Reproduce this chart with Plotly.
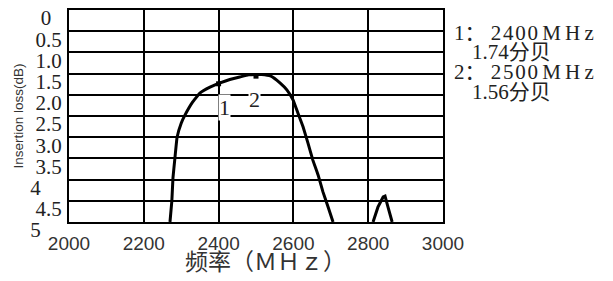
import plotly.graph_objects as go

# Main passband curve (MHz, insertion loss dB)
freq_main = [2270, 2275, 2278, 2283, 2289, 2300, 2310, 2329, 2350, 2377, 2404, 2430, 2457,
             2480, 2500, 2515, 2540, 2564, 2583, 2599, 2612, 2626, 2639, 2652, 2666,
             2679, 2693, 2706]
loss_main = [5.0, 4.5, 3.96, 3.51, 3.0, 2.67, 2.48, 2.19, 1.96, 1.82, 1.72, 1.64, 1.58,
             1.53, 1.52, 1.52, 1.56, 1.72, 1.89, 2.12, 2.43, 2.76, 3.14, 3.54, 3.89,
             4.29, 4.65, 5.0]
# Spurious bump
freq_spur = [2813, 2826, 2840, 2845, 2853, 2864]
loss_spur = [5.0, 4.65, 4.41, 4.39, 4.65, 5.0]

marker_freq = [2400, 2500]
marker_loss = [1.74, 1.56]
marker_names = ["1", "2"]

y_ticks = [0, 0.5, 1.0, 1.5, 2.0, 2.5, 3.0, 3.5, 4.0, 4.5, 5.0]
y_text = ["0\u2002", "0.5", "1.0", "1.5", "2.0", "2.5", "3.0", "3.5", "4\u2007\u2007", "4.5", "5\u2007\u2007"]
x_ticks = [2000, 2200, 2400, 2600, 2800, 3000]
x_title = "频率（ＭＨｚ）"
y_title = "Insertion loss(dB)"

info_lines = ["1： 2\u200a4\u200a0\u200a0\u2009M\u2009H\u2009z", "1.74分贝",
              "2： 2\u200a5\u200a0\u200a0\u2009M\u2009H\u2009z", "1.56分贝"]

SERIF = "Liberation Serif, Noto Sans CJK SC, serif"

# page body has an 8px margin: figure coordinates = page pixels - 8
OFF = 8
PL, PR, PT, PB = 69, 443, 10, 222   # plot box in page pixels

fig = go.Figure()
fig.add_trace(go.Scatter(x=freq_main, y=loss_main, mode="lines",
                         line=dict(color="black", width=3, shape="spline", smoothing=0.3),
                         showlegend=False))
fig.add_trace(go.Scatter(x=freq_spur, y=loss_spur, mode="lines",
                         line=dict(color="black", width=3),
                         showlegend=False))
fig.add_trace(go.Scatter(x=marker_freq, y=marker_loss, mode="markers",
                         marker=dict(color="black", size=5, symbol="square"),
                         showlegend=False))

# marker labels "1" and "2"
label_pos = [(2417, 2.29), (2497, 2.12)]
for name, (lx, ly) in zip(marker_names, label_pos):
    fig.add_annotation(x=lx, y=ly, text=name, showarrow=False,
                       font=dict(family=SERIF, size=22, color="#222"),
                       bgcolor="white", borderpad=0)

# right-side info text (page pixel positions converted to paper coords)
info_py = [33, 52, 72, 92]
info_px = [452, 470, 452, 470]
for t, py, px in zip(info_lines, info_py, info_px):
    fig.add_annotation(xref="paper", yref="paper",
                       x=(px - PL) / (PR - PL), y=(PB - py) / (PB - PT), text=t, showarrow=False,
                       xanchor="left", yanchor="middle",
                       font=dict(family=SERIF, size=21, color="#222"))

# x-axis title placed as text just below the tick labels
fig.add_annotation(xref="paper", yref="paper",
                   x=(265 - PL) / (PR - PL), y=(PB - 260) / (PB - PT), text=x_title,
                   showarrow=False, xanchor="center", yanchor="middle",
                   font=dict(family="Noto Sans CJK SC", size=23, color="#333"))

W, H = 613 - OFF, 281 - OFF
fig.update_layout(
    width=W, height=H,
    margin=dict(l=PL - OFF, r=W - (PR - OFF), t=PT - OFF, b=H - (PB - OFF), autoexpand=False),
    paper_bgcolor="white", plot_bgcolor="white",
    xaxis=dict(range=[2000, 3000], tickvals=x_ticks, automargin=False,
               showgrid=True, gridcolor="black", gridwidth=2,
               showline=True, linecolor="black", linewidth=2, mirror=True,
               zeroline=False, ticks="", ticklabelstandoff=3, ticklabeloverflow="allow",
               tickfont=dict(family="Liberation Sans, Arial, sans-serif", size=19, color="#333")),
    yaxis=dict(range=[5, 0], tickvals=y_ticks, ticktext=y_text, automargin=False,
               showgrid=True, gridcolor="black", gridwidth=2,
               showline=True, linecolor="black", linewidth=2, mirror=True,
               zeroline=False, ticks="", ticklabelshift=-8, ticklabelstandoff=1,
               ticklabeloverflow="allow",
               tickfont=dict(family=SERIF, size=21, color="#222"),
               title=dict(text=y_title, standoff=4,
                          font=dict(family="Liberation Sans, Arial, sans-serif", size=13.5, color="#333"))),
)

fig.write_html("out.html")
